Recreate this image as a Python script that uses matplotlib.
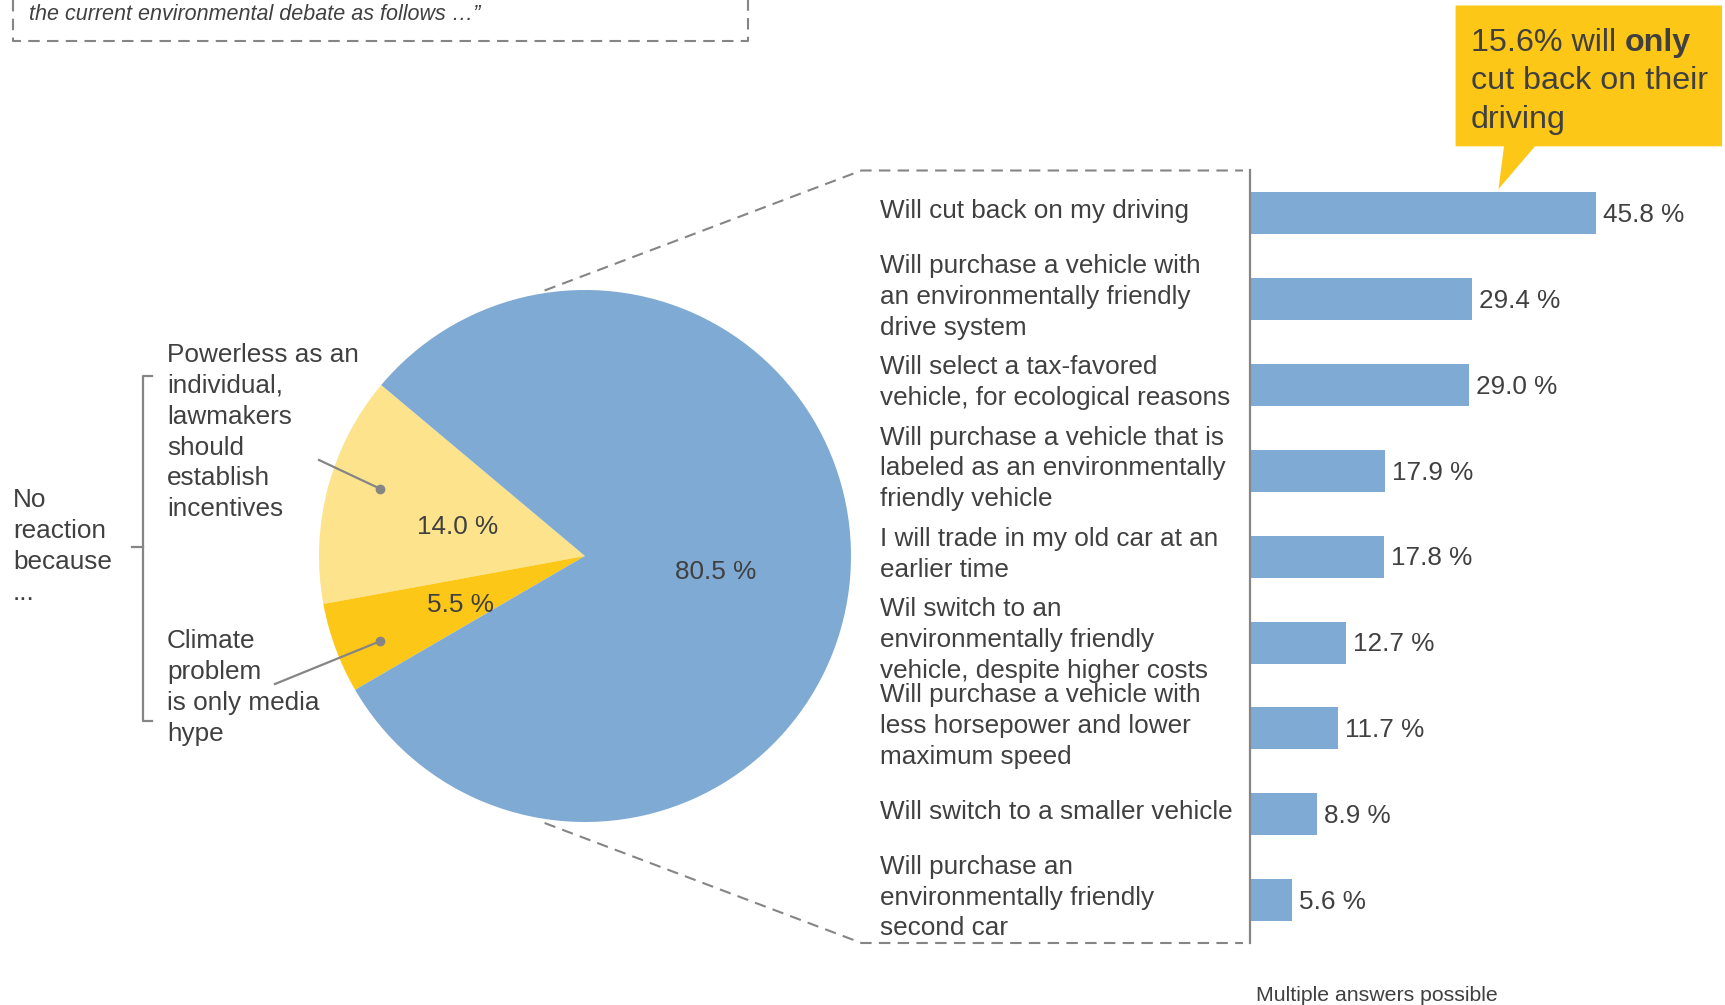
import matplotlib
matplotlib.use("Agg")
import matplotlib.pyplot as plt
from matplotlib import transforms
from matplotlib.patches import Polygon

plt.rcParams['font.family'] = ['Liberation Sans', 'DejaVu Sans']

# ---------------- data ----------------
pie_labels = ["Powerless as an\nindividual,\nlawmakers\nshould\nestablish\nincentives",
              "Climate\nproblem\nis only media\nhype",
              "React"]
pie_values = [14.0, 5.5, 80.5]

categories = [
    "Will cut back on my driving",
    "Will purchase a vehicle with\nan environmentally friendly\ndrive system",
    "Will select a tax-favored\nvehicle, for ecological reasons",
    "Will purchase a vehicle that is\nlabeled as an environmentally\nfriendly vehicle",
    "I will trade in my old car at an\nearlier time",
    "Wil switch to an\nenvironmentally friendly\nvehicle, despite higher costs",
    "Will purchase a vehicle with\nless horsepower and lower\nmaximum speed",
    "Will switch to a smaller vehicle",
    "Will purchase an\nenvironmentally friendly\nsecond car",
]
values = [45.8, 29.4, 29.0, 17.9, 17.8, 12.7, 11.7, 8.9, 5.6]

# ---------------- style ----------------
BLUE = "#7FAAD3"
LIGHT_Y = "#FCE38C"
DARK_Y = "#FCC717"
TXT = "#404040"
GRAY = "#858585"
FS = 18.8
LS = 1.36

W, H = 1725, 1005
fig = plt.figure(figsize=(W / 100, H / 100), dpi=100)

# overlay axes in pixel coordinates (y downward)
ov = fig.add_axes([0, 0, 1, 1], zorder=5)
ov.set_xlim(0, W)
ov.set_ylim(H, 0)
ov.axis("off")
ov.patch.set_alpha(0)

# ---------------- pie ----------------
cx, cy, r = 585, 556, 266
pax = fig.add_axes([(cx - r) / W, 1 - (cy + r) / H, 2 * r / W, 2 * r / H])
pax.pie(pie_values, colors=[LIGHT_Y, DARK_Y, BLUE], startangle=140,
        counterclock=True, wedgeprops=dict(linewidth=0))
pax.set_xlim(-1, 1)
pax.set_ylim(-1, 1)
pax.axis("off")
pie_txt_pos = [(-0.48, 0.11), (-0.47, -0.185), (0.49, -0.06)]
for v, (x, y) in zip(pie_values, pie_txt_pos):
    pax.text(x, y, f"{v:.1f} %", ha="center", va="center", fontsize=FS, color=TXT)

# ---------------- bars ----------------
x0 = 1250
px_per_pct = 7.547
xmax = 60
top, bot = 170.5, 943
bax = fig.add_axes([x0 / W, 1 - bot / H, xmax * px_per_pct / W, (bot - top) / H])
ypos = list(range(len(values)))
bax.barh(ypos, values, height=0.49, color=BLUE)
bax.set_xlim(0, xmax)
bax.set_ylim(len(values) - 0.5, -0.5)
for s in ["top", "right", "bottom"]:
    bax.spines[s].set_visible(False)
bax.spines["left"].set_color(GRAY)
bax.spines["left"].set_linewidth(1.6)
bax.set_xticks([])
bax.set_yticks([])
bax.patch.set_alpha(0)
for y, v in zip(ypos, values):
    bax.annotate(f"{v:.1f} %", xy=(v, y + 0.02), xytext=(5, 0), textcoords="offset points",
                 ha="left", va="center", fontsize=FS, color=TXT)

blend = transforms.blended_transform_factory(ov.transData, bax.transData)
for y, c in zip(ypos, categories):
    ov.text(880, y - 0.03, c, transform=blend, ha="left", va="center", fontsize=FS,
            color=TXT, linespacing=LS)

# ---------------- dashed connectors ----------------
dash = dict(color=GRAY, lw=1.5, linestyle=(0, (5.5, 3.5)))
ov.plot([544.6, 861.5, 1243], [290.5, 170.5, 170.5], **dash)
ov.plot([544.6, 861.5, 1243], [823, 943, 943], **dash)

# top dashed box (partially visible)
ov.plot([13, 13, 748, 748], [0, 41, 41, 0], **dash)
ov.text(29, 14, "the current environmental debate as follows \u2026\u201d", fontsize=15.5,
        style="italic", color=TXT, ha="left", va="center")

# ---------------- left labels ----------------
ov.text(167, 343, pie_labels[0], fontsize=FS, color=TXT, ha="left", va="top",
        linespacing=LS)
ov.text(167, 629, pie_labels[1], fontsize=FS, color=TXT, ha="left", va="top",
        linespacing=LS)
ov.text(13, 488, "No\nreaction\nbecause\n...", fontsize=FS, color=TXT, ha="left",
        va="top", linespacing=LS)

# bracket
ov.plot([152, 143, 143, 152], [376, 376, 721, 721], color=GRAY, lw=1.6)
ov.plot([132, 143], [547, 547], color=GRAY, lw=1.6)

# leader lines with dots
ov.plot([319, 379.6], [460, 488.5], color=GRAY, lw=1.6)
ov.plot([379.6], [488.5], "o", color=GRAY, ms=6)
ov.plot([275, 379.6], [684, 641.4], color=GRAY, lw=1.6)
ov.plot([379.6], [641.4], "o", color=GRAY, ms=6)

# ---------------- callout ----------------
callout = Polygon([(1455.6, 5.5), (1722, 5.5), (1722, 146.3), (1535, 146.3),
                   (1498.5, 189), (1504, 146.3), (1455.6, 146.3)],
                  closed=True, facecolor=DARK_Y, edgecolor="none")
ov.add_patch(callout)
CFS = 23.2
t1 = ov.text(1471, 50.6, "15.6% will ", fontsize=CFS, color=TXT, ha="left", va="baseline")
ov.annotate("only", xy=(1, 0), xycoords=t1,
            ha="left", va="bottom", fontsize=CFS, color=TXT, fontweight="bold")
ov.text(1471, 89.2, "cut back on their", fontsize=CFS, color=TXT, ha="left", va="baseline")
ov.text(1471, 127.8, "driving", fontsize=CFS, color=TXT, ha="left", va="baseline")

# footnote
ov.text(1256, 1001, "Multiple answers possible", fontsize=15.3, color=TXT,
        ha="left", va="baseline")

fig.savefig("out.png", dpi=100)
